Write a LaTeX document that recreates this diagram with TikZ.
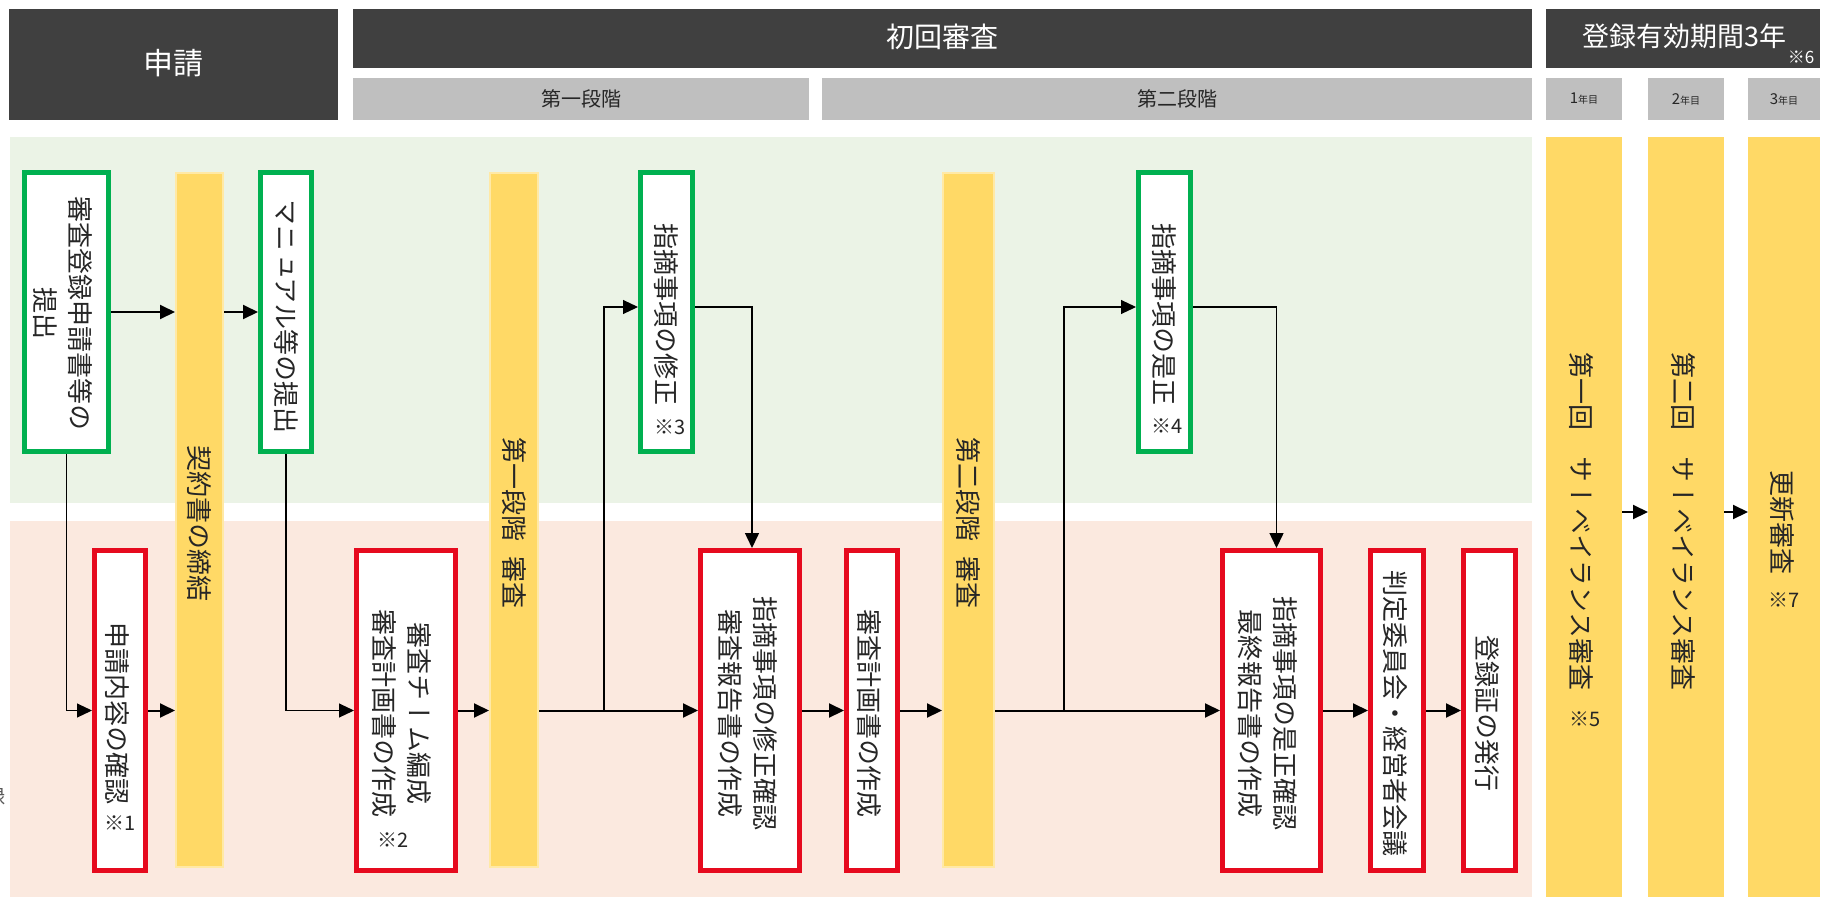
\documentclass[tikz,border=0pt]{standalone}
\usepackage{fontspec}
\setmainfont{Noto Sans CJK JP}
\newfontfamily\jp{Noto Sans CJK JP}
\newfontfamily\vjp[Vertical=RotatedGlyphs]{Noto Sans CJK JP}
\usetikzlibrary{arrows.meta,calc}
\definecolor{hdr}{HTML}{404040}
\definecolor{subg}{HTML}{BFBFBF}
\definecolor{bandg}{HTML}{EBF3E6}
\definecolor{bandp}{HTML}{FBE9DF}
\definecolor{barf}{HTML}{FFD966}
\definecolor{barl}{HTML}{FFE9A6}
\definecolor{gbox}{HTML}{00B050}
\definecolor{rbox}{HTML}{E60A1E}
\definecolor{ink}{HTML}{262626}
\tikzset{
  plain/.style={inner sep=0pt, outer sep=0pt, draw=none},
  hdrbox/.style={plain, fill=hdr},
  subbox/.style={plain, fill=subg},
  band/.style={plain},
  gboxs/.style={draw=gbox, line width=5pt, fill=white, inner sep=0pt},
  rboxs/.style={draw=rbox, line width=5pt, fill=white, inner sep=0pt},
  barbox/.style={draw=barl, line width=2pt, fill=barf, inner sep=0pt},
  colbox/.style={plain, fill=barf},
  vt/.style={rotate=-90, align=center, inner sep=0pt, text=ink, font=\vjp\fontsize{26}{35}\selectfont},
  note/.style={inner sep=0pt, text=ink, font=\jp\fontsize{20}{20}\selectfont},
  htext/.style={inner sep=0pt, text=white},
  stext/.style={inner sep=0pt, text=ink, font=\jp\fontsize{20}{20}\selectfont},
  arr/.style={-{Triangle[length=15pt,width=14pt]}, line width=2pt, draw=black},
  arrt/.style={-{Triangle[length=15pt,width=14pt]}, line width=1.1pt, draw=black},
}
\begin{document}
\begin{tikzpicture}[x=1pt,y=-1pt]
\useasboundingbox (0,0) rectangle (1825,897);
% headers
\node[hdrbox, minimum width=329pt, minimum height=111pt] (h1) at (173.5,64.5) {};
\node[hdrbox, minimum width=1179pt, minimum height=59pt] (h2) at (942.5,38.5) {};
\node[hdrbox, minimum width=274pt, minimum height=59pt] (h3) at (1683,38.5) {};
\node[subbox, minimum width=456pt, minimum height=42pt] (s1) at (581,99) {};
\node[subbox, minimum width=710pt, minimum height=42pt] (s2) at (1177,99) {};
\node[subbox, minimum width=76pt, minimum height=42pt] (y1) at (1584,99) {};
\node[subbox, minimum width=76pt, minimum height=42pt] (y2) at (1686,99) {};
\node[subbox, minimum width=72pt, minimum height=42pt] (y3) at (1784,99) {};
\node[htext, font=\jp\fontsize{30}{30}\selectfont] (h1t) at (173.5,63) {申請};
\node[htext, font=\jp\fontsize{28}{28}\selectfont] (h2t) at (942.5,37) {初回審査};
\node[htext, font=\jp\fontsize{27}{27}\selectfont] (h3t) at (1684,36) {登録有効期間3年};
\node[htext, font=\jp\fontsize{17}{17}\selectfont] (h3n) at (1801,57) {※6};
\node[stext] (s1t) at (581,99) {第一段階};
\node[stext] (s2t) at (1177,99) {第二段階};
\node[stext] (y1t) at (1584,99) {{\fontsize{15}{15}\selectfont 1}{\fontsize{10}{10}\selectfont 年目}};
\node[stext] (y2t) at (1686,99) {{\fontsize{15}{15}\selectfont 2}{\fontsize{10}{10}\selectfont 年目}};
\node[stext] (y3t) at (1784,99) {{\fontsize{15}{15}\selectfont 3}{\fontsize{10}{10}\selectfont 年目}};
% bands
\node[band, fill=bandg, minimum width=1522pt, minimum height=366pt] (bg) at (771,320) {};
\node[band, fill=bandp, minimum width=1522pt, minimum height=376pt] (bp) at (771,709) {};
% stray character at left edge
\node[inner sep=0pt, anchor=east, text=black!65, font=\jp\fontsize{20}{20}\selectfont] (stray) at (6,797) {録};
% right columns
\node[colbox, minimum width=76pt, minimum height=760pt] (c1) at (1584,517) {};
\node[colbox, minimum width=76pt, minimum height=760pt] (c2) at (1686,517) {};
\node[colbox, minimum width=72pt, minimum height=760pt] (c3) at (1784,517) {};
% bars
\node[barbox, minimum width=47pt, minimum height=694pt] (k1) at (199.5,520) {};
\node[barbox, minimum width=48pt, minimum height=694pt] (k2) at (514,520) {};
\node[barbox, minimum width=51pt, minimum height=694pt] (k3) at (968.5,520) {};
% green boxes
\node[gboxs, minimum width=84pt, minimum height=279pt] (b1) at (66.5,312) {};
\node[gboxs, minimum width=51pt, minimum height=279pt] (b2) at (286,312) {};
\node[gboxs, minimum width=52pt, minimum height=279pt] (b5) at (666.5,312) {};
\node[gboxs, minimum width=52pt, minimum height=279pt] (b8) at (1164.5,312) {};
% red boxes
\node[rboxs, minimum width=51pt, minimum height=320pt] (b3) at (120,710.5) {};
\node[rboxs, minimum width=99pt, minimum height=320pt] (b4) at (406,710.5) {};
\node[rboxs, minimum width=99pt, minimum height=320pt] (b6) at (750,710.5) {};
\node[rboxs, minimum width=51pt, minimum height=320pt] (b7) at (872,710.5) {};
\node[rboxs, minimum width=98pt, minimum height=320pt] (b9) at (1271.5,710.5) {};
\node[rboxs, minimum width=53pt, minimum height=320pt] (b10) at (1397,710.5) {};
\node[rboxs, minimum width=52pt, minimum height=320pt] (b11) at (1489.5,710.5) {};
% vertical texts
\node[vt] (t1) at (63,313) {審査登録申請書等の\\提出};
\node[vt] (t2) at (286,316) {マニュアル等の提出};
\node[vt] (t5) at (666,314) {指摘事項の修正};
\node[note] (n3) at (670,427) {※3};
\node[vt] (t8) at (1164,314) {指摘事項の是正};
\node[note] (n4) at (1167,426) {※4};
\node[vt] (t3) at (117,713) {申請内容の確認};
\node[note] (n1) at (120,823) {※1};
\node[vt] (t4) at (402,713) {審査チーム編成\\審査計画書の作成};
\node[note] (n2) at (393,840) {※2};
\node[vt] (t6) at (748,713) {指摘事項の修正確認\\審査報告書の作成};
\node[vt] (t7) at (869,713) {審査計画書の作成};
\node[vt] (t9) at (1268,713) {指摘事項の是正確認\\最終報告書の作成};
\node[vt] (t10) at (1395,713) {判定委員会・経営者会議};
\node[vt] (t11) at (1487,713) {登録証の発行};
\node[vt] (tk1) at (199,523) {契約書の締結};
\node[vt] (tk2) at (514,523) {第一段階\hspace{0.6em}審査};
\node[vt] (tk3) at (968,523) {第二段階\hspace{0.6em}審査};
\node[vt] (tc1) at (1581,521) {第一回　サーベイランス審査};
\node[note] (n5) at (1585,719) {※5};
\node[vt] (tc2) at (1683,521) {第二回　サーベイランス審査};
\node[vt] (tc3) at (1782,522) {更新審査};
\node[note] (n7) at (1784,600) {※7};
% connectors
\draw[arr] (b1.east) -- (k1.west |- b1.east);
\draw[arr] (k1.east |- b2.west) -- (b2.west);
\draw[arrt] (b1.south) |- (b3.west);
\draw[arr] (b3.east) -- (k1.west |- b3.east);
\draw[arrt] (b2.south) |- (b4.west);
\draw[arr] (b4.east) -- (k2.west |- b4.east);
\draw[arr] (k2.east |- b6.west) -- (b6.west);
\coordinate (j1) at (604,710.5);
\draw[arrt] (j1) |- ([yshift=5pt]b5.west);
\draw[arrt, line width=1.5pt] ([yshift=5pt]b5.east) -| ([xshift=2pt]b6.north);
\draw[arr] (b6.east) -- (b7.west);
\draw[arr] (b7.east) -- (k3.west |- b7.east);
\draw[arr] (k3.east |- b9.west) -- (b9.west);
\coordinate (j2) at (1064,710.5);
\draw[arrt] (j2) |- ([yshift=5pt]b8.west);
\draw[arrt, line width=1.5pt] ([yshift=5pt]b8.east) -| ([xshift=5pt]b9.north);
\draw[arr] (b9.east) -- (b10.west);
\draw[arr] (b10.east) -- (b11.west);
\draw[arr] ([yshift=5pt]c1.east) -- ([yshift=5pt]c2.west);
\draw[arr] ([yshift=5pt]c2.east) -- ([yshift=5pt]c3.west);
\end{tikzpicture}
\end{document}
